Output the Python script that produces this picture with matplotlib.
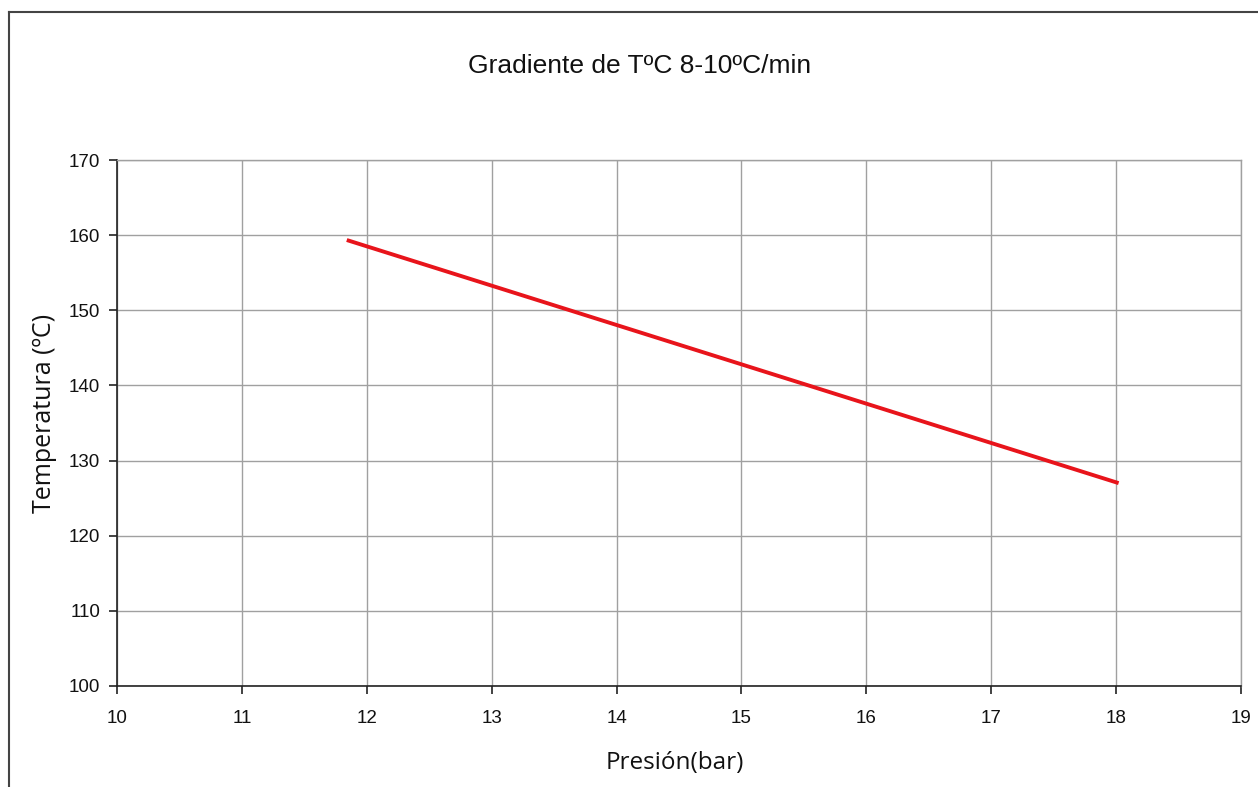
import matplotlib
matplotlib.use("Agg")
import matplotlib.pyplot as plt
from matplotlib.lines import Line2D

# data
presion = [11.84, 18.02]
temperatura = [159.35, 127.0]
xticks = list(range(10, 20))
yticks = list(range(100, 171, 10))

W, H = 1258, 787
fig = plt.figure(figsize=(W / 100, H / 100), dpi=100)
ax = fig.add_axes([117 / W, 1 - 686 / H, (1241 - 117) / W, (686 - 160) / H])

ax.plot(presion, temperatura, color="#e8141b", lw=2.8, solid_capstyle="butt")

ax.set_xlim(10, 19)
ax.set_ylim(100, 170)
ax.set_xticks(xticks)
ax.set_yticks(yticks)
ax.grid(True, color="#a0a0a0", lw=1.0)
ax.set_axisbelow(True)
for s in ("top", "right"):
    ax.spines[s].set_color("#a0a0a0")
    ax.spines[s].set_linewidth(1.0)
for s in ("left", "bottom"):
    ax.spines[s].set_color("#222222")
    ax.spines[s].set_linewidth(1.2)
ax.tick_params(direction="out", length=6, width=1.2, color="#222222",
               labelsize=13.5, labelcolor="#111111")
ax.tick_params(axis="x", pad=11)
ax.tick_params(axis="y", pad=6)
for lab in ax.get_xticklabels() + ax.get_yticklabels():
    lab.set_family("Liberation Sans")

fig.text(640 / W, 1 - 66 / H, "Gradiente de T\u00baC 8-10\u00baC/min",
         ha="center", va="center", fontsize=19, family="Liberation Sans", color="#111111")
fig.text(675 / W, 1 - 763 / H, "Presión(bar)", ha="center", va="center",
         fontsize=17.5, family="Open Sans", color="#111111")
fig.text(45 / W, 1 - 413 / H, "Temperatura (\u00baC)", ha="center", va="center",
         rotation=90, fontsize=18, family="Open Sans", color="#111111")

# outer frame (only left and top edges visible in the reference)
fig.add_artist(Line2D([9 / W, 9 / W], [0, 1 - 12 / H], transform=fig.transFigure,
                      color="#444444", lw=1.5))
fig.add_artist(Line2D([9 / W, 1], [1 - 12 / H, 1 - 12 / H], transform=fig.transFigure,
                      color="#444444", lw=1.5))

fig.savefig("out.png", dpi=100, facecolor="white")
